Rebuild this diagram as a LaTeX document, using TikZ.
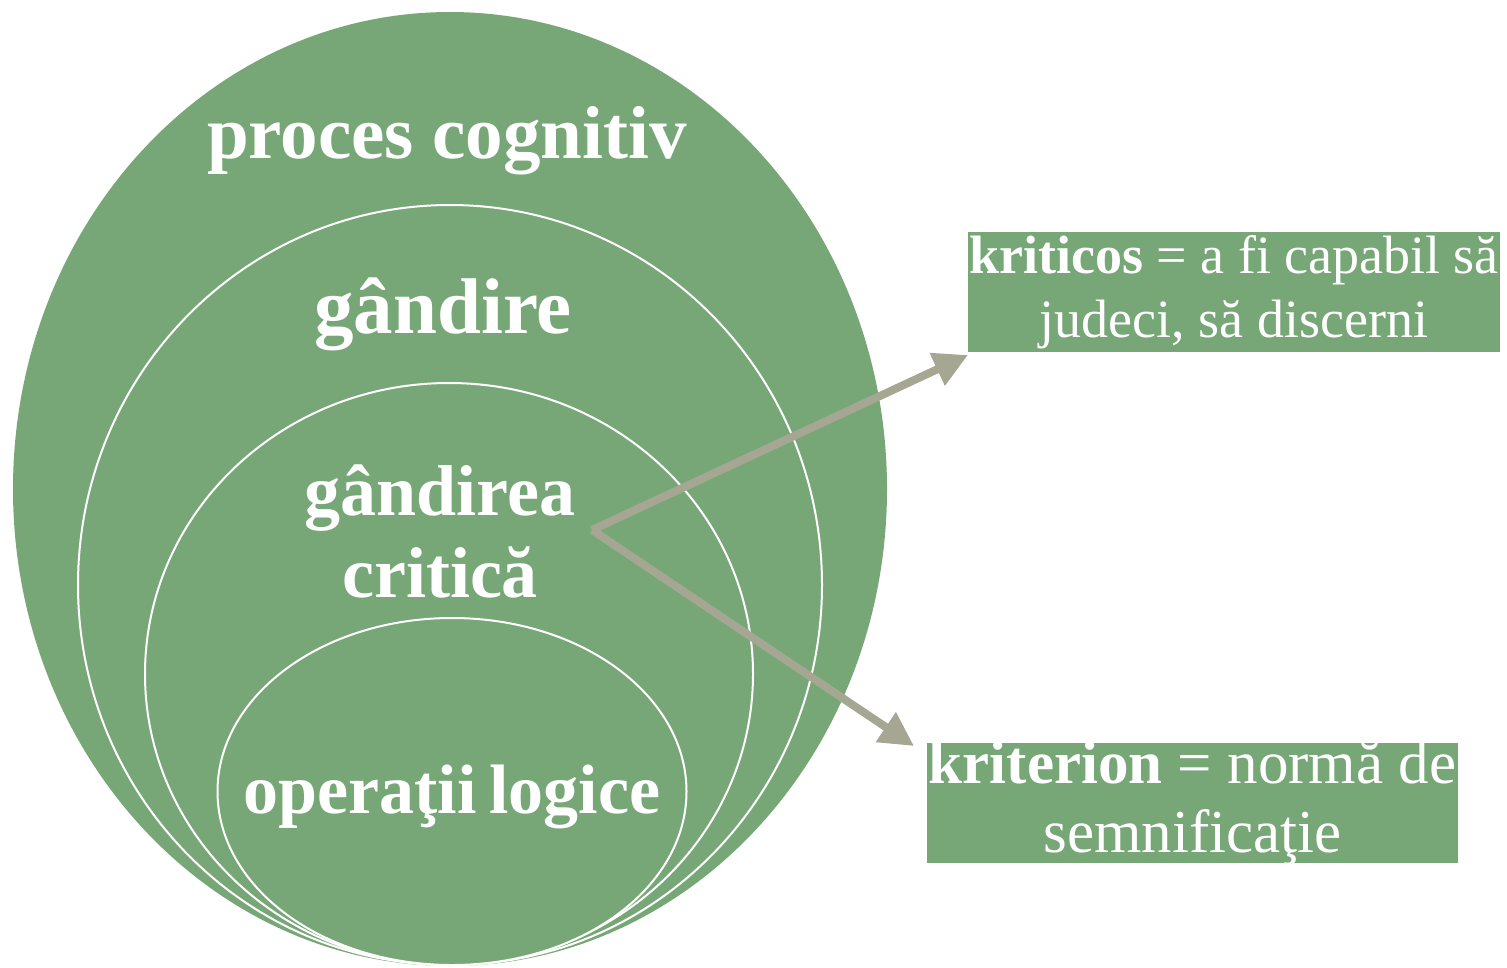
\documentclass[tikz,border=0pt]{standalone}
\usepackage{fontspec}
\setmainfont{Liberation Serif}
\usetikzlibrary{shapes.geometric,arrows.meta}
\definecolor{leaf}{RGB}{119,167,119}
\definecolor{arrowgrey}{RGB}{165,167,147}
\tikzset{
  ring/.style={ellipse, fill=leaf, draw=white, line width=2pt, inner sep=0pt},
  outerring/.style={ellipse, fill=leaf, draw=none, inner sep=0pt},
  biglabel/.style={anchor=base, text=white, inner sep=0pt, font=\bfseries\fontsize{#1}{#1}\selectfont},
  defbox/.style={fill=leaf, inner sep=0pt},
  deftext/.style={inner sep=0pt, text=white, align=center},
  pointer/.style={draw=arrowgrey, line width=8pt, line join=miter, -{Triangle[length=34pt,width=34pt]}}
}
\begin{document}
\begin{tikzpicture}[x=1pt,y=-1pt]
\useasboundingbox (0,0) rectangle (1507,967);
% nested ellipses
\node[outerring, minimum width=874pt, minimum height=954pt] (e1) at (450,489) {};
\node[ring, minimum width=744pt, minimum height=760pt] (e2) at (450,585) {};
\node[ring, minimum width=608pt, minimum height=582pt] (e3) at (449,674) {};
\node[ring, minimum width=469pt, minimum height=347pt] (e4) at (452,791.5) {};
% labels
\node[biglabel=75] (l1) at (447,158) {proces cognitiv};
\node[biglabel=79] (l2) at (443,333) {gândire};
\node[biglabel=72] (l3a) at (440,515) {gândirea};
\node[biglabel=72] (l3b) at (440,597) {critică};
\node[biglabel=70] (l4) at (452,813) {operaţii\hspace{0.18em}logice};
% definition boxes
\node[defbox, minimum width=532pt, minimum height=120pt] (b1) at (1234,292) {};
\node[deftext, font=\fontsize{54}{64}\selectfont] (b1t) at (b1.center)
  {\textbf{kriticos} = a fi capabil să\\judeci, să discerni};
\node[defbox, minimum width=531pt, minimum height=120pt] (b2) at (1192.5,803) {};
\node[deftext, font=\fontsize{61}{69}\selectfont] (b2t) at (b2.center)
  {\textbf{kriterion} = normă de\\semnificaţie};
% connectors
\coordinate (src) at (592,530);
\coordinate (t1) at (968,355);
\coordinate (t2) at (914,746);
\draw[pointer] (src) -- (t1);
\draw[pointer] (src) -- (t2);
\end{tikzpicture}
\end{document}
